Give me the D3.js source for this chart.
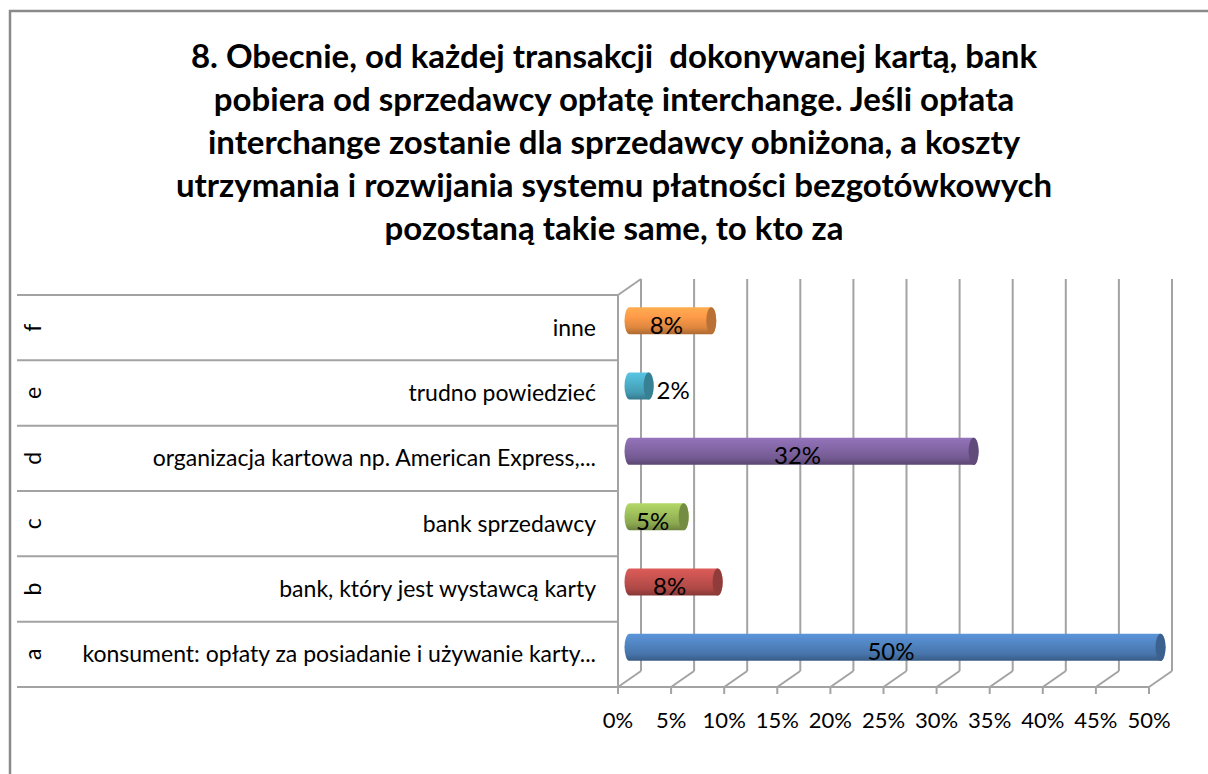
<!DOCTYPE html>
<html><head><meta charset="utf-8">
<script src="https://cdn.jsdelivr.net/npm/d3@7"></script>
<style>html,body{margin:0;padding:0;background:#fff;overflow:hidden}</style>
</head><body>
<svg id="c" width="1208" height="774"></svg>
<script>
// ---- data ----
const titleLines = [
  "8. Obecnie, od każdej transakcji  dokonywanej kartą, bank",
  "pobiera od sprzedawcy opłatę interchange. Jeśli opłata",
  "interchange zostanie dla sprzedawcy obniżona, a koszty",
  "utrzymania i rozwijania systemu płatności bezgotówkowych",
  "pozostaną takie same, to kto za"
];
const categories = ["a", "b", "c", "d", "e", "f"];
const categoryLabels = [
  "konsument: opłaty za posiadanie i używanie karty...",
  "bank, który jest wystawcą karty",
  "bank sprzedawcy",
  "organizacja kartowa np. American Express,...",
  "trudno powiedzieć",
  "inne"
];
const values = [50, 8.3, 5.1, 32.4, 1.8, 7.7];
const xTicks = [0, 5, 10, 15, 20, 25, 30, 35, 40, 45, 50];
const palette = ["#4F81BD", "#C0504D", "#9BBB59", "#8064A2", "#4BACC6", "#F79646"];

// ---- layout ----
const svg = d3.select("#c");
const FONT = "Lato, 'Open Sans', sans-serif";
const plotTop = 295, plotBottom = 687;
const depth = {dx: 23, dy: -16};
const x = d3.scaleLinear().domain([0, 50]).range([618, 1149]);
const y = d3.scaleBand().domain(categories.slice().reverse()).range([plotTop, plotBottom]);
const gridColor = "#a3a3a3";

// outer frame
svg.append("rect").attr("x", 10).attr("y", 11).attr("width", 1220).attr("height", 800)
  .attr("fill", "none").attr("stroke", "#8a8a8a").attr("stroke-width", 2.5);

// title
svg.append("g").selectAll("text").data(titleLines).join("text")
  .attr("x", 614).attr("y", (d, i) => 68 + i * 43)
  .attr("text-anchor", "middle").attr("font-family", FONT).attr("font-weight", "bold")
  .attr("font-size", 33).attr("fill", "#000").style("white-space", "pre")
  .text(d => d);

const g = svg.append("g");
// back wall gridlines
g.selectAll(".grid").data(xTicks).join("line").attr("class", "grid")
  .attr("x1", d => x(d) + depth.dx).attr("x2", d => x(d) + depth.dx)
  .attr("y1", plotTop + depth.dy).attr("y2", plotBottom + depth.dy)
  .attr("stroke", gridColor).attr("stroke-width", 2);
// floor diagonals
g.selectAll(".fdiag").data(xTicks).join("line").attr("class", "fdiag")
  .attr("x1", d => x(d)).attr("y1", plotBottom)
  .attr("x2", d => x(d) + depth.dx).attr("y2", plotBottom + depth.dy)
  .attr("stroke", gridColor).attr("stroke-width", 2);
// left wall top diagonal
g.append("line").attr("x1", x(0)).attr("y1", plotTop).attr("x2", x(0) + depth.dx).attr("y2", plotTop + depth.dy)
  .attr("stroke", gridColor).attr("stroke-width", 2);
// floor front edge
g.append("line").attr("x1", x(0)).attr("x2", x(50)).attr("y1", plotBottom).attr("y2", plotBottom)
  .attr("stroke", gridColor).attr("stroke-width", 2);
// ticks
g.selectAll(".tick").data(xTicks).join("line").attr("class", "tick")
  .attr("x1", d => x(d)).attr("x2", d => x(d)).attr("y1", plotBottom).attr("y2", plotBottom + 7)
  .attr("stroke", gridColor).attr("stroke-width", 2);
// tick labels
g.selectAll(".tl").data(xTicks).join("text").attr("class", "tl")
  .attr("x", d => x(d)).attr("y", 728).attr("text-anchor", "middle")
  .attr("font-family", FONT).attr("font-size", 22).attr("fill", "#000")
  .text(d => d + "%");

// category table lines
const bounds = y.domain().map(d => y(d)).concat([plotBottom]);
g.selectAll(".row").data(bounds).join("line").attr("class", "row")
  .attr("x1", 17).attr("x2", x(0)).attr("y1", d => d).attr("y2", d => d)
  .attr("stroke", gridColor).attr("stroke-width", 2);
// category axis line
g.append("line").attr("x1", x(0)).attr("x2", x(0)).attr("y1", plotTop).attr("y2", plotBottom + 6)
  .attr("stroke", gridColor).attr("stroke-width", 2);

// category labels
g.selectAll(".cl").data(categories).join("text").attr("class", "cl")
  .attr("x", 596).attr("y", d => y(d) + y.bandwidth() / 2 + 8)
  .attr("text-anchor", "end").attr("font-family", FONT).attr("font-size", 23).attr("fill", "#000")
  .text((d, i) => categoryLabels[i]);
// rotated letters
g.selectAll(".lt").data(categories).join("text").attr("class", "lt")
  .attr("transform", d => `translate(41,${y(d) + y.bandwidth() / 2}) rotate(-90)`)
  .attr("text-anchor", "middle").attr("font-family", FONT).attr("font-size", 23).attr("fill", "#000")
  .text(d => d);

// gradients
const defs = svg.append("defs");
palette.forEach((c, i) => {
  const base = d3.color(c);
  const gr = defs.append("linearGradient").attr("id", "gr" + i)
    .attr("x1", 0).attr("y1", 0).attr("x2", 0).attr("y2", 1);
  gr.append("stop").attr("offset", "0%").attr("stop-color", base.brighter(0.4));
  gr.append("stop").attr("offset", "35%").attr("stop-color", base.brighter(0.1));
  gr.append("stop").attr("offset", "75%").attr("stop-color", base.darker(0.3));
  gr.append("stop").attr("offset", "100%").attr("stop-color", base.darker(1));
});

// bars (cylinders at mid depth)
const mid = {dx: depth.dx / 2, dy: depth.dy / 2 + 1};
const barH = 27, rx = 5;
const bars = g.selectAll(".bar").data(categories).join("g").attr("class", "bar");
bars.each(function (d, i) {
  const sel = d3.select(this);
  const cy = y(d) + y.bandwidth() / 2 + mid.dy;
  const x0 = x(0) + mid.dx, x1 = x(values[i]) + mid.dx;
  const top = cy - barH / 2, bot = cy + barH / 2, ry = barH / 2;
  sel.append("path")
    .attr("d", `M${x0},${top} L${x1},${top} A${rx},${ry} 0 0 1 ${x1},${bot} L${x0},${bot} A${rx},${ry} 0 0 1 ${x0},${top} Z`)
    .attr("fill", `url(#gr${i})`);
  sel.append("ellipse").attr("cx", x1).attr("cy", cy).attr("rx", rx).attr("ry", ry)
    .attr("fill", d3.color(palette[i]).darker(0.8));
  const txt = d3.format(".0f")(values[i]) + "%";
  const outside = values[i] < 3;
  sel.append("text")
    .attr("x", outside ? x1 + rx + 3 : (x0 + x1) / 2 - 4)
    .attr("y", cy + 13)
    .attr("text-anchor", outside ? "start" : "middle")
    .attr("font-family", FONT).attr("font-size", 24).attr("fill", "#000")
    .text(txt);
});
</script>
</body></html>
